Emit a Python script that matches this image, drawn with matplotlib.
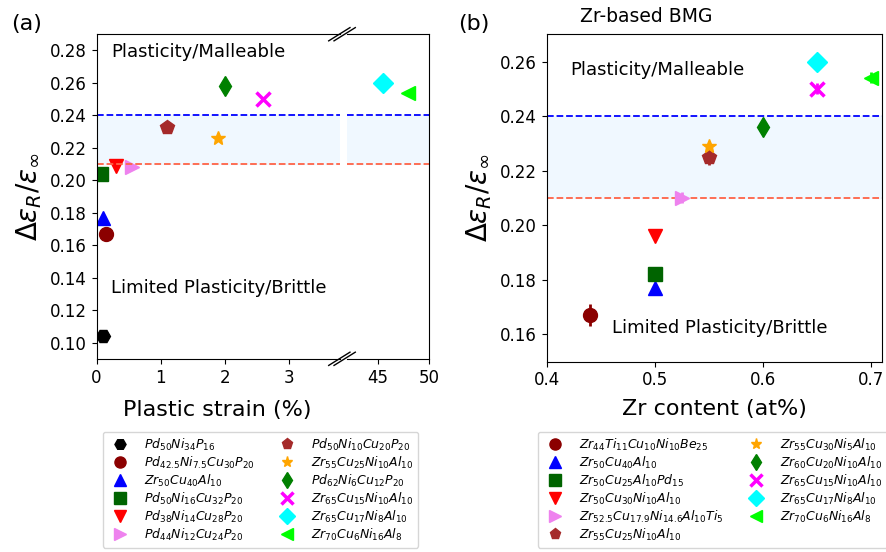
import numpy as np
import matplotlib.pyplot as plt

# ---- panel (a) data: plastic strain vs relaxation ratio
a_labels = [r'$Pd_{50}Ni_{34}P_{16}$', r'$Pd_{42.5}Ni_{7.5}Cu_{30}P_{20}$', r'$Zr_{50}Cu_{40}Al_{10}$',
            r'$Pd_{50}Ni_{16}Cu_{32}P_{20}$', r'$Pd_{38}Ni_{14}Cu_{28}P_{20}$', r'$Pd_{44}Ni_{12}Cu_{24}P_{20}$',
            r'$Pd_{50}Ni_{10}Cu_{20}P_{20}$', r'$Zr_{55}Cu_{25}Ni_{10}Al_{10}$', r'$Pd_{62}Ni_{6}Cu_{12}P_{20}$',
            r'$Zr_{65}Cu_{15}Ni_{10}Al_{10}$', r'$Zr_{65}Cu_{17}Ni_{8}Al_{10}$', r'$Zr_{70}Cu_{6}Ni_{16}Al_{8}$']
a_strain = [0.1, 0.15, 0.1, 0.07, 0.3, 0.55, 1.1, 1.9, 2.0, 2.6, 45.5, 48.0]
a_ratio = [0.104, 0.167, 0.177, 0.204, 0.209, 0.208, 0.233, 0.226, 0.258, 0.250, 0.260, 0.254]
a_markers = ['H', 'o', '^', 's', 'v', '>', 'p', '*', 'd', 'x', 'D', '<']
a_colors = ['black', 'darkred', 'blue', 'darkgreen', 'red', 'violet', 'brown', 'orange', 'green',
            'magenta', 'cyan', 'lime']

# ---- panel (b) data: Zr content vs relaxation ratio
b_labels = [r'$Zr_{44}Ti_{11}Cu_{10}Ni_{10}Be_{25}$', r'$Zr_{50}Cu_{40}Al_{10}$', r'$Zr_{50}Cu_{25}Al_{10}Pd_{15}$',
            r'$Zr_{50}Cu_{30}Ni_{10}Al_{10}$', r'$Zr_{52.5}Cu_{17.9}Ni_{14.6}Al_{10}Ti_{5}$',
            r'$Zr_{55}Cu_{25}Ni_{10}Al_{10}$', r'$Zr_{55}Cu_{30}Ni_{5}Al_{10}$', r'$Zr_{60}Cu_{20}Ni_{10}Al_{10}$',
            r'$Zr_{65}Cu_{15}Ni_{10}Al_{10}$', r'$Zr_{65}Cu_{17}Ni_{8}Al_{10}$', r'$Zr_{70}Cu_{6}Ni_{16}Al_{8}$']
b_zr = [0.44, 0.50, 0.50, 0.50, 0.525, 0.55, 0.55, 0.60, 0.65, 0.65, 0.70]
b_ratio = [0.167, 0.177, 0.182, 0.196, 0.210, 0.225, 0.229, 0.236, 0.250, 0.260, 0.254]
b_err = [0.004, 0.0, 0.0, 0.0, 0.002, 0.003, 0.0, 0.0, 0.002, 0.0, 0.002]
b_markers = ['o', '^', 's', 'v', '>', 'p', '*', 'd', 'x', 'D', '<']
b_colors = ['darkred', 'blue', 'darkgreen', 'red', 'violet', 'brown', 'orange', 'green', 'magenta', 'cyan', 'lime']

upper, lower = 0.24, 0.21

fig = plt.figure(figsize=(8.86, 5.52), dpi=100)
axL = fig.add_axes([0.109, 0.350, 0.275, 0.588])
axR = fig.add_axes([0.392, 0.350, 0.092, 0.588])
axB = fig.add_axes([0.617, 0.345, 0.378, 0.593])

leg_kw = dict(ncol=2, loc='upper left', fontsize=9, handletextpad=0.9, columnspacing=1.6,
              labelspacing=0.15, borderpad=0.4, borderaxespad=0, markerscale=0.8)

# panel (a), broken x axis
handles = []
for i in range(len(a_labels)):
    ax = axL if a_strain[i] < 10 else axR
    h, = ax.plot(a_strain[i], a_ratio[i], marker=a_markers[i], color=a_colors[i], ls='none',
                 ms=10, mew=2.5 if a_markers[i] == 'x' else 1, label=a_labels[i])
    handles.append(h)

for ax in (axL, axR):
    ax.axhspan(lower, upper, color='aliceblue', zorder=0)
    ax.axhline(upper, color='blue', ls='--', lw=1.3)
    ax.axhline(lower, color='tomato', ls='--', lw=1.3)
    ax.set_ylim(0.09, 0.29)
    ax.tick_params(labelsize=12)

axL.set_xlim(0, 3.8)
axL.set_xticks([0, 1, 2, 3])
axL.set_yticks(np.arange(0.10, 0.281, 0.02))
axR.set_xlim(42, 50)
axR.set_xticks([45, 50])
axR.set_yticks([])
axL.spines['right'].set_visible(False)
axR.spines['left'].set_visible(False)

# break marks
d = 0.012
kw = dict(transform=fig.transFigure, color='k', lw=1, clip_on=False)
xb = 0.387
for yb in (0.350, 0.938):
    for dx in (-0.004, 0.002):
        fig.add_artist(plt.Line2D([xb + dx - d, xb + dx + d], [yb - d, yb + d], **kw))

axL.set_ylabel(r'$\Delta\varepsilon_R/\varepsilon_\infty$', fontsize=20)
fig.text(0.245, 0.247, 'Plastic strain (%)', fontsize=16, ha='center')
axL.text(0.06, 0.945, 'Plasticity/Malleable', transform=axL.transAxes, fontsize=13, va='center')
axL.text(0.06, 0.218, 'Limited Plasticity/Brittle', transform=axL.transAxes, fontsize=13, va='center')
fig.text(0.012, 0.945, '(a)', fontsize=16)

fig.legend(handles=handles, bbox_to_anchor=(0.116, 0.218), **leg_kw)

# panel (b)
axB.axhspan(lower, upper, color='aliceblue', zorder=0)
axB.axhline(upper, color='blue', ls='--', lw=1.3)
axB.axhline(lower, color='tomato', ls='--', lw=1.3)
b_handles = []
for i in range(len(b_labels)):
    if b_err[i] > 0:
        axB.errorbar(b_zr[i], b_ratio[i], yerr=b_err[i], color=b_colors[i], ls='none', elinewidth=2)
    h, = axB.plot(b_zr[i], b_ratio[i], marker=b_markers[i], color=b_colors[i], ls='none', ms=10,
                  mew=2.5 if b_markers[i] == 'x' else 1, label=b_labels[i])
    b_handles.append(h)
axB.set_xlim(0.4, 0.71)
axB.set_ylim(0.15, 0.27)
axB.set_xticks([0.4, 0.5, 0.6, 0.7])
axB.set_yticks(np.arange(0.16, 0.261, 0.02))
axB.tick_params(labelsize=12)
axB.set_xlabel('Zr content (at%)', fontsize=16, labelpad=7)
axB.set_ylabel(r'$\Delta\varepsilon_R/\varepsilon_\infty$', fontsize=20)
axB.set_title('Zr-based BMG', fontsize=13.5, loc='left', x=0.1, pad=9)
axB.text(0.07, 0.89, 'Plasticity/Malleable', transform=axB.transAxes, fontsize=13, va='center')
axB.text(0.195, 0.103, 'Limited Plasticity/Brittle', transform=axB.transAxes, fontsize=13, va='center')
fig.text(0.517, 0.945, '(b)', fontsize=16)
axB.legend(handles=b_handles, bbox_to_anchor=(0.607, 0.218), bbox_transform=fig.transFigure, **leg_kw)

fig.savefig('out.png', dpi=100)
